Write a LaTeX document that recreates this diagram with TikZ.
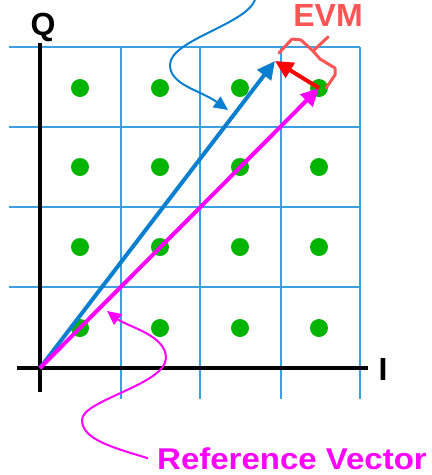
\documentclass[tikz,border=0pt]{standalone}
\usepackage{fontspec}
\setmainfont{Liberation Sans}
\usetikzlibrary{arrows.meta}
\definecolor{GridBlue}{HTML}{3C9FE0}
\definecolor{Blue}{HTML}{0A7FD0}
\definecolor{Magenta}{HTML}{FF00FF}
\definecolor{DotGreen}{HTML}{00B400}
\definecolor{Salmon}{HTML}{FF5555}
\definecolor{Red}{HTML}{FF0000}

\begin{document}
\begin{tikzpicture}[x=1pt,y=-1pt,
  gridline/.style={draw=GridBlue,line width=1.2pt},
  axis/.style={draw=black,line width=4pt},
  dot/.style={circle,fill=DotGreen,minimum size=18pt,inner sep=0pt},
  vec/.style={line width=4pt,-{Triangle[length=18pt,width=17pt]}},
  pointer/.style={line width=2pt,-{Triangle[length=14pt,width=13pt]}},
  brace/.style={draw=Salmon,line width=3pt,line join=round,line cap=round},
  lbl/.style={font=\fontsize{32}{36}\selectfont\bfseries,inner sep=0pt}
]
\useasboundingbox (0,0) rectangle (432,475);
\foreach \y in {47,127,207,287}
  \draw[gridline] (9,\y) -- (360,\y);
\foreach \x in {121,200,281,360}
  \draw[gridline] (\x,47) -- (\x,399);
\draw[axis] (40,43) -- (40,392);
\draw[axis] (17,368) -- (368,368);
\foreach \x [count=\i] in {80,160,240,319}
  \foreach \y [count=\j] in {88,167,247,328}
    \node[dot] (d\i\j) at (\x,\y) {};
\coordinate (O) at (40,368);
\coordinate (meas) at (275,61);
\draw[vec,Blue] (O) -- (meas);
\draw[vec,Magenta] (O) -- (d41.center);
\draw[vec,Red] (d41.center) -- (meas);
\node[lbl,anchor=base] (Q) at (43,35) {Q};
\node[lbl,anchor=base] (I) at (383,380) {I};
\node[lbl,anchor=base,text=Salmon] (evm) at (328,26) {EVM};
\node[lbl,anchor=base west,text=Magenta,font=\fontsize{30}{34}\selectfont\bfseries] (ref) at (157,469) {\scalebox{1.1}[1]{Reference Vector}};
\draw[brace] (279,53) -- (292,39) -- (301,40) -- (313,51) -- (328,37);
\draw[brace] (313,51) -- (320,59) -- (335,68) -- (335,75) -- (326,88);
\coordinate (btail) at (255,0);
\coordinate (btip) at (228,110);
\draw[pointer,Blue] (btail) .. controls (245,25) and (170,40) .. (170,65)
  .. controls (170,85) and (200,90) .. (btip);
\coordinate (mtip) at (107,311);
\draw[pointer,Magenta] ([xshift=-9pt]ref.west) .. controls (115,448) and (82,440) .. (82,420)
  .. controls (82,400) and (165,385) .. (166,358)
  .. controls (166,335) and (128,327) .. (mtip);
\end{tikzpicture}
\end{document}
